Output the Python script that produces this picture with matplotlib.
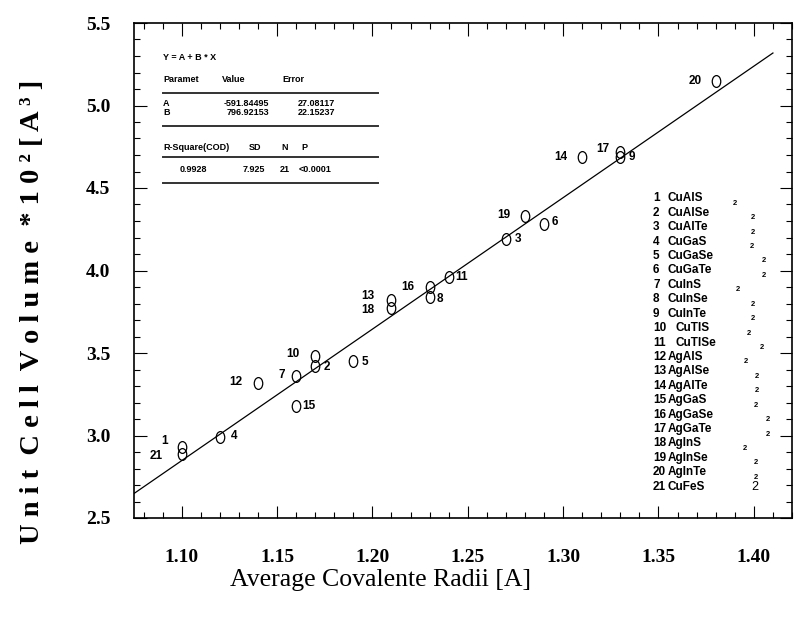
import numpy as np
import matplotlib
matplotlib.use("Agg")
import matplotlib.pyplot as plt
from matplotlib.path import Path
from matplotlib.transforms import Affine2D
from matplotlib.lines import Line2D
from matplotlib.ticker import MultipleLocator, FormatStrFormatter

# compound number -> (average covalent radius, unit cell volume / 100)
nums = list(range(1, 22))
radii = [1.10, 1.17, 1.27, 1.12, 1.19, 1.29, 1.16, 1.23, 1.33, 1.17, 1.24,
         1.14, 1.21, 1.31, 1.16, 1.23, 1.33, 1.21, 1.28, 1.38, 1.10]
volume = [2.93, 3.42, 4.19, 2.99, 3.45, 4.28, 3.36, 3.84, 4.69, 3.48, 3.96,
          3.32, 3.82, 4.69, 3.18, 3.90, 4.72, 3.77, 4.33, 5.15, 2.89]
names = ["CuAlS", "CuAlSe", "CuAlTe", "CuGaS", "CuGaSe", "CuGaTe", "CuInS",
         "CuInSe", "CuInTe", "CuTlS", "CuTlSe", "AgAlS", "AgAlSe", "AgAlTe",
         "AgGaS", "AgGaSe", "AgGaTe", "AgInS", "AgInSe", "AgInTe", "CuFeS"]

# linear fit Y = A + B*X  (Y in A^3)
fit_A = -591.84495
fit_B = 796.92153

# label offsets next to each point (pixels, +y up)
lab_off = [(-17, 6), (12, -1), (12, 0), (14, 1), (12, -1), (11, 2), (-14, 1),
           (10, -2), (12, 0), (-22, 2), (13, 0), (-22, 1), (-24, 4), (-21, 0),
           (13, 0), (-22, 0), (-18, 3), (-24, -2), (-21, 1), (-21, 0), (-25, -2)]
# x position (px) of the stray "2" in the list on the right
sub_x = [735, 753, 753, 752, 764, 764, 738, 753, 753, 749, 762, 746, 757,
         757, 756, 768, 768, 745, 756, 756, 755]

plt.rcParams['font.family'] = ['Liberation Serif', 'DejaVu Serif']

W, H = 800, 618
fig = plt.figure(figsize=(8, 6.18), dpi=100)
ax = fig.add_axes([134 / W, 1 - 518 / H, (792 - 134) / W, (518 - 23) / H])


def fx(x):
    return x / W


def fy(y):
    return 1 - y / H


ell = Path.unit_circle().transformed(Affine2D().scale(0.72, 1.0))
ax.plot(radii, volume, linestyle='none', marker=ell, markersize=8.5,
        markerfacecolor='none', markeredgecolor='black', markeredgewidth=0.9)

xl = np.array([1.075, 1.41])
ax.plot(xl, (fit_A + fit_B * xl) / 100, color='black', lw=0.9)

for n, x, y, (dx, dy) in zip(nums, radii, volume, lab_off):
    ax.annotate(str(n), (x, y), xytext=(dx * 0.72, dy * 0.72),
                textcoords='offset points', ha='center', va='center',
                family='Liberation Sans', fontweight='bold', fontsize=8.5)

ax.set_xlim(1.075, 1.42)
ax.set_ylim(2.5, 5.5)
ax.xaxis.set_major_locator(MultipleLocator(0.05))
ax.xaxis.set_minor_locator(MultipleLocator(0.01))
ax.yaxis.set_major_locator(MultipleLocator(0.5))
ax.yaxis.set_minor_locator(MultipleLocator(0.1))
ax.xaxis.set_major_formatter(FormatStrFormatter('%.2f'))
ax.yaxis.set_major_formatter(FormatStrFormatter('%.1f'))
ax.tick_params(which='both', direction='in', top=True, right=True, width=0.8)
ax.tick_params(which='major', length=9)
ax.tick_params(which='minor', length=4.5)
ax.tick_params(axis='x', which='major', pad=22)
ax.tick_params(axis='y', which='major', pad=17)
for lab in ax.get_xticklabels() + ax.get_yticklabels():
    lab.set_fontweight('bold')
    lab.set_fontsize(14)
for s in ax.spines.values():
    s.set_linewidth(1.2)

fig.text(fx(380), fy(580), "Average Covalente Radii [A]", ha='center',
         va='center', fontsize=18.5)
fig.text(fx(33), fy(312),
         "U n i t  C e l l  V o l u m e  * 1 0 \u00b2 [ A \u00b3 ]",
         rotation=90, ha='center', va='center', fontsize=20.5, fontweight='bold')

# fit statistics box
st = dict(family='Liberation Sans', fontweight='bold', fontsize=6.5, va='center')
fig.text(fx(163), fy(57), "Y = A + B * X", **st)
fig.text(fx(163), fy(80), "Paramet", **st)
fig.text(fx(222), fy(80), "Value", **st)
fig.text(fx(282), fy(80), "Error", **st)
fig.text(fx(163), fy(103), "A", **st)
fig.text(fx(163), fy(112.5), "B", **st)
fig.text(fx(269), fy(103), "%.5f" % fit_A, ha='right', **st)
fig.text(fx(269), fy(112.5), "%.5f" % fit_B, ha='right', **st)
fig.text(fx(335), fy(103), "27.08117", ha='right', **st)
fig.text(fx(335), fy(112.5), "22.15237", ha='right', **st)
fig.text(fx(163), fy(148), "R-Square(COD)", **st)
fig.text(fx(255), fy(148), "SD", ha='center', **st)
fig.text(fx(285), fy(148), "N", ha='center', **st)
fig.text(fx(304), fy(148), "P", ha='center', **st)
fig.text(fx(193), fy(169), "0.9928", ha='center', **st)
fig.text(fx(254), fy(169), "7.925", ha='center', **st)
fig.text(fx(285), fy(169), "21", ha='center', **st)
fig.text(fx(315), fy(169), "<0.0001", ha='center', **st)
for yy in [92.7, 126, 157.3, 183.3]:
    fig.add_artist(Line2D([fx(163), fx(378)], [fy(yy), fy(yy)],
                          color='#333333', lw=1.4))

# compound list
for i, (n, nm) in enumerate(zip(nums, names)):
    yy = 198.3 + i * 14.42
    fig.text(fx(653), fy(yy), str(n), family='Liberation Sans',
             fontweight='bold', fontsize=8.5, va='center')
    nx = 675 if n in (10, 11) else 668
    fig.text(fx(nx), fy(yy), nm, family='Liberation Sans',
             fontweight='bold', fontsize=8.5, va='center')
    if n == 21:
        fig.text(fx(sub_x[i]), fy(yy), "2", family='Liberation Sans',
                 fontsize=9, va='center', ha='center')
    else:
        fig.text(fx(sub_x[i]), fy(yy + 5), "2", family='Liberation Sans',
                 fontweight='bold', fontsize=5.5, va='center', ha='center')

fig.savefig("out.png", dpi=100)
